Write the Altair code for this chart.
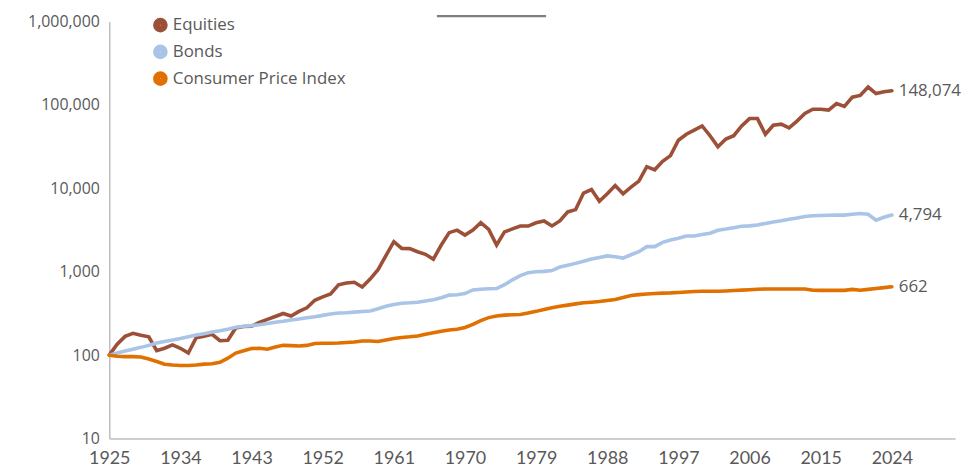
import altair as alt
import pandas as pd

years = list(range(1925, 2025))

equities = [
    100, 135, 168, 183, 173, 166, 113, 121, 133, 121,
    106, 162, 168, 178, 149, 151, 212, 221, 222, 247,
    268, 291, 316, 295, 335, 370, 455, 499, 542, 696,
    734, 747, 656, 818, 1058, 1560, 2297, 1907, 1895, 1740,
    1620, 1415, 2093, 2944, 3158, 2755, 3158, 3870, 3220, 2093,
    3010, 3264, 3534, 3534, 3870, 4064, 3542, 4064, 5220, 5560,
    8800, 9680, 7000, 8620, 10800, 8620, 10350, 12200, 18200, 16700,
    21100, 24700, 37800, 44600, 50000, 56000, 42800, 31600, 39000, 42800,
    56000, 68700, 68700, 44600, 57200, 58900, 53000, 64000, 79000, 89000,
    89000, 87000, 104000, 96000, 124000, 130000, 164000, 137000, 144000, 148074,
]

bonds = [
    100, 106, 112, 118, 124, 131, 140, 146, 152, 158,
    166, 174, 181, 189, 196, 205, 216, 222, 226, 232,
    240, 248, 255, 264, 272, 281, 289, 300, 312, 320,
    322, 328, 333, 338, 360, 386, 405, 420, 424, 432,
    445, 462, 488, 525, 530, 548, 605, 618, 626, 630,
    700, 800, 900, 975, 1000, 1010, 1034, 1140, 1200, 1260,
    1340, 1420, 1480, 1550, 1510, 1460, 1600, 1740, 2000, 2000,
    2250, 2400, 2520, 2680, 2680, 2800, 2900, 3150, 3250, 3380,
    3520, 3550, 3640, 3800, 3960, 4100, 4270, 4400, 4600, 4700,
    4730, 4770, 4780, 4780, 4900, 4990, 4890, 4150, 4500, 4794,
]

cpi = [
    100, 97, 96, 96, 95, 90, 84, 78, 76, 75,
    75, 76, 78, 79, 82, 92, 106, 113, 120, 121,
    118, 125, 131, 130, 129, 131, 138, 139, 139, 140,
    142, 144, 148, 148, 146, 152, 158, 163, 166, 170,
    178, 186, 194, 200, 204, 215, 234, 260, 282, 295,
    302, 305, 307, 320, 335, 353, 370, 386, 398, 412,
    424, 432, 440, 452, 465, 490, 518, 532, 542, 550,
    554, 558, 565, 572, 580, 583, 583, 583, 588, 595,
    602, 610, 616, 622, 622, 622, 622, 622, 622, 600,
    598, 598, 598, 598, 615, 600, 615, 630, 645, 662,
]

series_names = ["Equities", "Bonds", "Consumer Price Index"]
series_colors = ["#9C5038", "#A9C4E6", "#E07000"]
x_ticks = [1925, 1934, 1943, 1952, 1961, 1970, 1979, 1988, 1997, 2006, 2015, 2024]
y_ticks = [10, 100, 1000, 10000, 100000, 1000000]

rows = []
for name, vals in zip(series_names, [equities, bonds, cpi]):
    for yr, v in zip(years, vals):
        rows.append({"year": yr, "value": v, "series": name})
df = pd.DataFrame(rows)

label_color = "#595959"

x_enc = alt.X(
    "year:Q",
    scale=alt.Scale(domain=[1925, 2032], nice=False, zero=False),
    axis=alt.Axis(
        values=x_ticks, format="d", title=None, grid=False, ticks=False,
        domainColor="#BFBFBF", domainWidth=1.5,
        labelFont="Lato", labelFontSize=18, labelColor=label_color,
        labelPadding=11, labelFlush=False,
    ),
)
y_enc = alt.Y(
    "value:Q",
    scale=alt.Scale(type="log", domain=[10, 1000000], nice=False),
    axis=alt.Axis(
        values=y_ticks, format=",", title=None, grid=False, ticks=False,
        domainColor="#BFBFBF", domainWidth=1.5,
        labelFont="Open Sans", labelFontSize=16, labelColor=label_color,
        labelPadding=10,
    ),
)
color_enc = alt.Color(
    "series:N",
    sort=series_names,
    scale=alt.Scale(domain=series_names, range=series_colors),
    legend=alt.Legend(
        title=None, orient="none", legendX=43, legendY=-5,
        symbolType="circle", symbolSize=60, symbolStrokeWidth=7,
        labelFont="Open Sans", labelFontSize=17, labelColor=label_color,
        labelLimit=0, rowPadding=-17, labelOffset=4,
    ),
)

base = alt.Chart(df)

lines = base.mark_line(strokeWidth=3.6, strokeCap="round").encode(
    x=x_enc, y=y_enc, color=color_enc, detail="series:N",
)

end_labels = base.transform_filter(alt.datum.year == 2024).mark_text(
    align="left", baseline="middle", dx=7, font="Open Sans", fontSize=17, color=label_color,
).encode(
    x=alt.X("year:Q"), y=alt.Y("value:Q"), text=alt.Text("value:Q", format=","),
)

top_rule = alt.Chart(pd.DataFrame({"a": [0]})).mark_rule(color="#7F7F7F", strokeWidth=2.5).encode(
    x=alt.value(330), x2=alt.value(440), y=alt.value(-5.5),
)

chart = alt.layer(lines, end_labels, top_rule).properties(
    width=852, height=420,
    autosize=alt.AutoSizeParams(type="none"),
    padding={"left": 102, "top": 12, "right": 12, "bottom": 30},
).configure_view(stroke=None)

chart.save("out.html", embed_options={"renderer": "svg", "actions": False})
